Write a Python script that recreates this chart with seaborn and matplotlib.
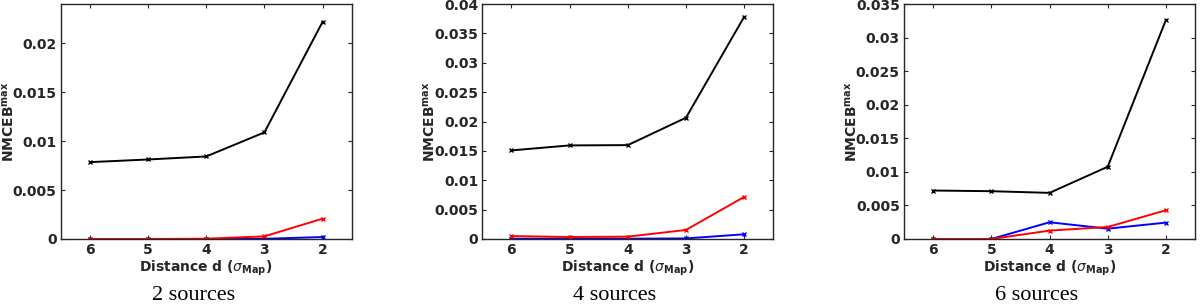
import numpy as np
import pandas as pd
import matplotlib
matplotlib.use("Agg")
import matplotlib.pyplot as plt
import seaborn as sns
from matplotlib.ticker import FuncFormatter, MultipleLocator

distances = [6, 5, 4, 3, 2]
captions = ["2 sources", "4 sources", "6 sources"]

black_2 = [0.00785, 0.00812, 0.00843, 0.01089, 0.02218]
red_2 = [0.0, 0.0, 0.00003, 0.00027, 0.00208]
blue_2 = [0.0, 0.0, 0.0, 0.00002, 0.00020]

black_4 = [0.01508, 0.01593, 0.01598, 0.02065, 0.03783]
red_4 = [0.00050, 0.00034, 0.00040, 0.00154, 0.00717]
blue_4 = [0.00005, 0.00005, 0.00005, 0.00010, 0.00080]

black_6 = [0.00722, 0.00712, 0.00687, 0.01076, 0.03262]
red_6 = [0.0, 0.0, 0.00125, 0.00179, 0.00428]
blue_6 = [0.0, 0.0, 0.00249, 0.00154, 0.00244]

ylims = [0.024, 0.04, 0.035]
panels = [(black_2, blue_2, red_2), (black_4, blue_4, red_4), (black_6, blue_6, red_6)]

sns.set_style("ticks")
plt.rcParams['font.family'] = ['DejaVu Sans']

fig = plt.figure(figsize=(12, 3.05), dpi=100)
lefts = [60.7 / 1200, 482.3 / 1200, 904 / 1200]
w = 291 / 1200
b = (305 - 239) / 305
h = 235 / 305

palette = {"black": "black", "blue": "blue", "red": "red"}
fmt = FuncFormatter(lambda v, p: "0" if abs(v) < 1e-12 else "{:g}".format(round(v, 4)))

for i, (bk, bl, rd) in enumerate(panels):
    ax = fig.add_axes([lefts[i], b, w, h])
    df = pd.DataFrame({
        "d": distances * 3,
        "v": bk + bl + rd,
        "s": ["black"] * 5 + ["blue"] * 5 + ["red"] * 5,
    })
    sns.lineplot(data=df, x="d", y="v", hue="s", hue_order=["black", "blue", "red"],
                 palette=palette, marker="x", markersize=3.5, markeredgewidth=1.0,
                 linewidth=1.4, ax=ax, legend=False)
    for ln in ax.lines:
        ln.set_markeredgecolor(ln.get_color())
        ln.set_markerfacecolor(ln.get_color())
    ax.set_xlim(6.5, 1.5)
    ax.set_ylim(0, ylims[i])
    ax.set_xticks(distances)
    ax.yaxis.set_major_locator(MultipleLocator(0.005))
    ax.yaxis.set_major_formatter(fmt)
    ax.tick_params(direction="in", top=True, right=True, length=3, width=0.8,
                   labelsize=10, colors="#262626", pad=3)
    for lab in ax.get_xticklabels() + ax.get_yticklabels():
        lab.set_fontweight("bold")
    for sp in ax.spines.values():
        sp.set_visible(True)
        sp.set_color("#262626")
        sp.set_linewidth(1.0)
    ax.set_xlabel(r"Distance d ($\sigma_{\mathbf{Map}}$)", fontsize=10, fontweight="bold",
                  color="#262626", labelpad=1)
    ax.set_ylabel(r"NMCEB$^{\mathbf{max}}$", fontsize=10, fontweight="bold",
                  color="#262626")
    ax.yaxis.set_label_coords(-0.152, 0.5)
    cx = lefts[i] + w / 2 - 13 / 1200
    fig.text(cx, 10 / 305, captions[i], ha="center", va="center",
             fontsize=16, family=["Liberation Serif", "DejaVu Serif"], color="black")

fig.savefig("out.png", dpi=100)
